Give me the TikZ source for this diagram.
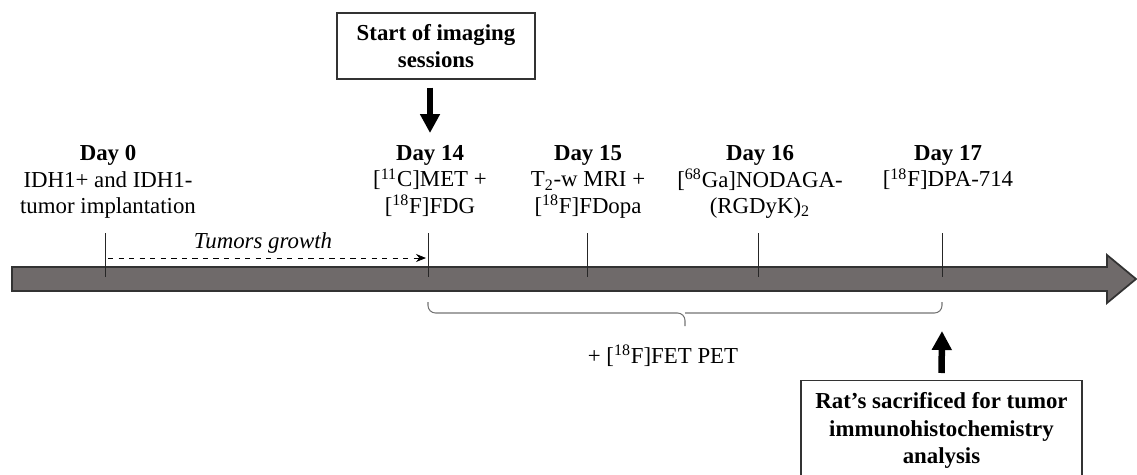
\documentclass[tikz,border=0pt]{standalone}
\usepackage{fontspec}
\setmainfont{Liberation Serif}
\usepackage{xcolor}
\usepackage{tikz}
\usetikzlibrary{arrows.meta,positioning,calc}
\definecolor{timegray}{RGB}{111,106,106}
\newcommand{\isotope}[2]{{[}\textsuperscript{#1}#2{]}}
\tikzset{
  day label/.style={
    anchor=north,
    inner sep=0pt,
    align=center,
    font=\fontsize{13}{15.1}\selectfont
  }
}
\tikzset{
  plain label/.style={
    inner sep=0pt,
    align=center,
    font=\fontsize{13}{15.1}\selectfont
  }
}
\tikzset{
  event box/.style={
    rectangle,
    draw=black!80,
    fill=white,
    line width=0.8pt,
    inner sep=2pt,
    align=center,
    font=\fontsize{13}{15.6}\selectfont\bfseries
  }
}
\tikzset{
  timeline/.style={
    draw=black!80,
    fill=timegray,
    line width=1pt,
    line join=miter
  }
}
\tikzset{
  day tick/.style={
    draw=black!85,
    line width=0.5pt
  }
}
\tikzset{
  big arrow/.style={
    -{Triangle[length=3.8mm,width=3.8mm]},
    draw=black,
    line width=1.3mm
  }
}
\tikzset{
  growth/.style={
    -{Stealth[length=2mm,width=1.6mm]},
    draw=black,
    dashed,
    line width=0.5pt
  }
}
\tikzset{
  bracket/.style={
    draw=black!55,
    line width=0.6pt,
    rounded corners=1.5mm
  }
}

\begin{document}
\begin{tikzpicture}[x=0.02cm,y=-0.02cm]

    \useasboundingbox (0,0) rectangle (1137,474);

    % ------------------------------------------------------------
    % Timeline
    % ------------------------------------------------------------

    \draw[timeline]
      (12,267) -- (1107,267) -- (1107,255) -- (1136,279)
      -- (1107,303) -- (1107,291) -- (12,291) -- cycle;

    \draw[day tick] (105,233) -- (105,277);
    \draw[day tick] (428,233) -- (428,277);
    \draw[day tick] (587,233) -- (587,277);
    \draw[day tick] (758,233) -- (758,277);
    \draw[day tick] (942,233) -- (942,277);

    % ------------------------------------------------------------
    % Nodes
    % ------------------------------------------------------------

    \node[day label] (d0) at (108,145)
    {
      \textbf{Day 0}\\
      IDH1+ and IDH1-\\
      tumor implantation
    };

    \node[day label] (d14) at (430,145)
    {
      \textbf{Day 14}\\
      \isotope{11}{C}MET +\\
      \isotope{18}{F}FDG
    };

    \node[day label] (d15) at (588,145)
    {
      \textbf{Day 15}\\
      T\textsubscript{2}-w MRI +\\
      \isotope{18}{F}FDopa
    };

    \node[day label] (d16) at (760,145)
    {
      \textbf{Day 16}\\
      \isotope{68}{Ga}NODAGA-\\
      (RGDyK)\textsubscript{2}
    };

    \node[day label] (d17) at (948,145)
    {
      \textbf{Day 17}\\
      \isotope{18}{F}DPA-714
    };

    \node[plain label,font=\fontsize{13}{15.1}\selectfont\itshape] (growthtext)
      at (263,243) {Tumors growth};

    \node[plain label] (fet) at (663,356) {+ \isotope{18}{F}FET PET};

    \node[event box,minimum width=3.96cm,minimum height=1.32cm] (start)
      at (436,46)
    {
      Start of imaging\\
      sessions
    };

    \node[event box,anchor=north,minimum width=5.62cm,minimum height=2cm] (rat)
      at (941.5,380)
    {
      Rat's sacrificed for tumor\\
      immunohistochemistry\\
      analysis
    };

    \coordinate (g0) at (108,258);
    \coordinate (g14) at (426,258);
    \coordinate (ratin) at (942,331);

    % ------------------------------------------------------------
    % Edges
    % ------------------------------------------------------------

    \draw[growth] (g0) -- (g14);

    \draw[big arrow,shorten <=1.6mm,shorten >=2.4mm]
      (start.south -| d14.north)
      --
      (d14.north);

    \draw[big arrow,shorten <=1.4mm]
      (rat.north)
      --
      (ratin);

    \draw[bracket]
      (428,302) |- (685,313) -- (685,326);
    \draw[bracket]
      (685,313) -| (942,302);

\end{tikzpicture}
\end{document}
